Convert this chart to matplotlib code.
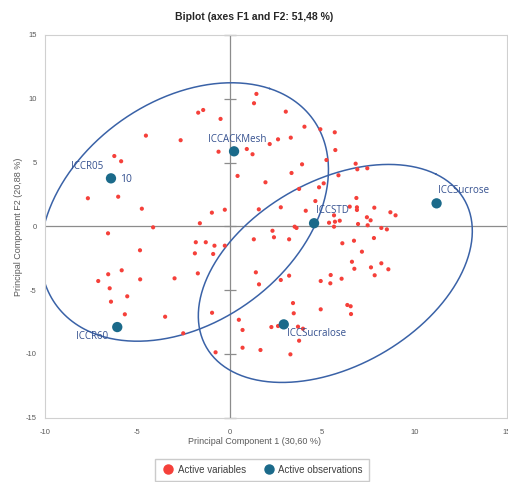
import numpy as np
import matplotlib
matplotlib.use("Agg")
import matplotlib.pyplot as plt
from matplotlib.lines import Line2D

plt.rcParams['font.family'] = ['Liberation Sans', 'DejaVu Sans']
plt.rcParams['axes.unicode_minus'] = False

var_x = [1.44,1.31,-1.71,-1.44,-0.50,-4.54,-2.66,2.61,-6.25,-5.88,-0.61,0.92,1.23,2.16,0.42,1.93,-7.68,-6.04,-4.76,-0.97,
         -0.27,1.57,-1.62,-4.15,-6.59,2.31,2.39,1.30,-1.84,-1.30,-0.83,-0.27,3.03,4.04,4.90,5.68,3.30,5.71,5.23,3.91,
         6.81,6.90,7.44,3.34,5.88,5.08,4.83,3.75,6.85,4.63,2.76,4.11,6.88,6.88,6.49,7.82,8.69,8.97,5.64,7.42,
         7.62,5.37,5.69,5.95,6.94,7.46,3.51,3.61,5.64,8.20,8.50,3.21,6.09,6.72,7.80,7.15,6.61,6.74,7.64,8.20,
         8.58,7.84,5.46,6.05,1.41,1.58,2.76,3.21,4.92,5.44,3.42,3.46,4.92,6.36,6.54,6.56,0.49,0.69,2.25,2.61,
         3.69,3.96,3.75,0.69,1.66,3.28,-0.96,-2.52,-0.77,-1.89,-0.90,-2.99,-1.73,-4.86,-6.58,-5.85,-7.12,-4.85,-6.50,-5.55,
         -6.43,-5.68,-3.50]
var_y = [10.38,9.65,8.91,9.12,8.42,7.11,6.75,6.82,5.51,5.10,5.85,6.06,5.65,6.45,3.95,3.45,2.20,2.32,1.38,1.07,
         1.30,1.33,0.24,-0.08,-0.55,-0.35,-0.86,-1.02,-1.25,-1.25,-1.52,-1.52,8.99,7.81,7.61,7.37,6.95,5.98,5.20,4.86,
         4.91,4.47,4.55,4.18,4.00,3.37,3.06,2.93,2.22,1.98,1.49,1.22,1.49,1.28,1.54,1.46,1.10,0.86,0.86,0.71,
         0.47,0.28,0.36,0.44,0.18,0.08,-0.03,-0.13,-0.03,-0.13,-0.24,-1.02,-1.33,-1.13,-0.92,-1.99,-2.78,-3.33,-3.22,-2.90,
         -3.37,-3.84,-3.82,-4.11,-3.61,-4.55,-4.21,-3.87,-4.29,-4.47,-6.02,-6.82,-6.51,-6.17,-6.27,-6.88,-7.33,-8.13,-7.90,-7.82,
         -7.87,-8.03,-8.97,-9.52,-9.70,-10.04,-6.78,-8.39,-9.88,-2.12,-2.17,-4.08,-3.69,-1.88,-3.76,-3.45,-4.29,-4.16,-4.86,-5.49,
         -5.91,-6.90,-7.09]

obs_names = ["ICCR05", "ICCACKMesh", "ICCSTD", "ICCSucrose", "ICCR60", "ICCSucralose"]
obs_x = [-6.43, 0.23, 4.56, 11.19, -6.09, 2.92]
obs_y = [3.76, 5.88, 0.24, 1.80, -7.90, -7.69]

# group ellipses: center x, center y, semi-major, semi-minor, angle (deg, data units)
ell_cx = [-2.454, 5.710]
ell_cy = [1.122, -3.696]
ell_a = [10.720, 9.501]
ell_b = [6.962, 6.144]
ell_ang = [64.56, 55.07]

x_ticks = [-10, -5, 0, 5, 10, 15]
y_ticks = [-15, -10, -5, 0, 5, 10, 15]

title = "Biplot (axes F1 and F2: 51,48 %)"
xlabel = "Principal Component 1 (30,60 %)"
ylabel = "Principal Component F2 (20,88 %)"

fig = plt.figure(figsize=(5.08, 4.82), dpi=100)
ax = fig.add_axes([0.0886, 0.1336, 0.9094, 0.7938])
ax.set_xlim(-10, 15)
ax.set_ylim(-15, 15)

for s in ax.spines.values():
    s.set_color("#D0D0D0")
    s.set_linewidth(0.8)
ax.set_xticks(x_ticks)
ax.set_yticks(y_ticks)
ax.tick_params(length=0, labelsize=5.5, labelcolor="#595959")
ax.tick_params(axis='x', pad=8)
ax.tick_params(axis='y', pad=6)

ax.axhline(0, color="#8C8C8C", lw=0.9, zorder=1)
ax.axvline(0, color="#8C8C8C", lw=0.9, zorder=1)
ax.plot([0] * len(y_ticks), y_ticks, ls="none", marker="_", ms=8, mew=0.9,
        color="#8C8C8C", zorder=1, clip_on=False)

t = np.linspace(0, 2 * np.pi, 400)
for cx, cy, a, b, ang in zip(ell_cx, ell_cy, ell_a, ell_b, ell_ang):
    th = np.radians(ang)
    xs = cx + a * np.cos(t) * np.cos(th) - b * np.sin(t) * np.sin(th)
    ys = cy + a * np.cos(t) * np.sin(th) + b * np.sin(t) * np.cos(th)
    ax.plot(xs, ys, color="#3A62A7", lw=1.1, zorder=2)

ax.scatter(var_x, var_y, s=9, color="#F5403A", edgecolors="none", zorder=3)
ax.scatter(obs_x, obs_y, s=55, color="#1B6A8A", edgecolors="none", zorder=4)

lab_col = "#34508F"
offsets = {
    "ICCR05": ((-8, 12), "right"),
    "ICCACKMesh": ((3, 12), "center"),
    "ICCSTD": ((2, 13), "left"),
    "ICCSucrose": ((1, 13), "left"),
    "ICCR60": ((-9, -9), "right"),
    "ICCSucralose": ((3, -9), "left"),
}
for n, x, y in zip(obs_names, obs_x, obs_y):
    off, ha = offsets[n]
    ax.annotate(n, (x, y), xytext=off, textcoords="offset pixels", ha=ha, va="center",
                fontsize=7, color=lab_col, family=["Open Sans", "DejaVu Sans"], zorder=5)
ax.annotate("10", (obs_x[0], obs_y[0]), xytext=(9, -1), textcoords="offset pixels", ha="left",
            va="center", fontsize=7.5, color=lab_col, family=["Open Sans", "DejaVu Sans"], zorder=5)

fig.text(0.5, 0.965, title, ha="center", va="center", fontsize=7.5, fontweight="bold", color="#262626")
fig.text(0.5, 0.083, xlabel, ha="center", va="center", fontsize=6.5, color="#595959")
fig.text(0.036, 0.53, ylabel, ha="center", va="center", rotation=90, fontsize=6.5, color="#595959")

handles = [Line2D([], [], ls="none", marker="o", ms=6.5, color="#F5403A", label="Active variables"),
           Line2D([], [], ls="none", marker="o", ms=6.5, color="#1B6A8A", label="Active observations")]
leg = fig.legend(handles=handles, loc="upper center", bbox_to_anchor=(0.515, 0.058), ncol=2,
                 fontsize=7, frameon=True, fancybox=False, edgecolor="#BFBFBF",
                 handletextpad=0.2, columnspacing=1.5, borderpad=0.6, handlelength=1.6)
for tx in leg.get_texts():
    tx.set_color("#404040")

fig.savefig("out.png")
